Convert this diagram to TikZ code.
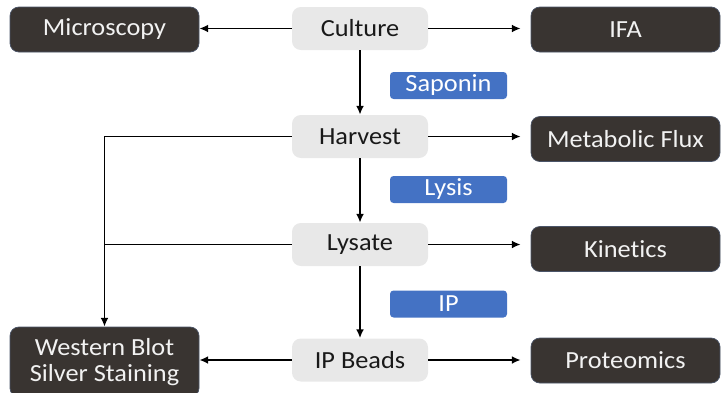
\documentclass[tikz,border=0pt]{standalone}
\usepackage{fontspec}
\setmainfont{Carlito}[FakeStretch=1.07, Ligatures=NoCommon]
\usepackage{xcolor}
\usepackage{tikz}
\usetikzlibrary{calc, arrows.meta, positioning}

\definecolor{darkbox}{HTML}{393431}
\definecolor{darkedge}{HTML}{4A5468}
\definecolor{greybox}{HTML}{E8E8E8}
\definecolor{bluebox}{HTML}{4472C4}

\begin{document}
\begin{tikzpicture}[auto, >={Latex[length=5pt, width=4.5pt]}]
		\tikzstyle{stage} = [fill=greybox, rounded corners=5pt, minimum width=2.72cm, minimum height=0.86cm, font=\fontsize{14}{17}\selectfont, text=black!90]
		\tikzstyle{assay} = [fill=darkbox, draw=darkedge, line width=0.4pt, rounded corners=5pt, minimum width=3.78cm, minimum height=0.9cm, font=\fontsize{14}{17}\selectfont, text=white!95!black, align=center]
		\tikzstyle{treat} = [fill=bluebox, rounded corners=2pt, minimum width=2.34cm, minimum height=0.54cm, inner sep=1pt, font=\fontsize{14}{17}\selectfont, text=white]
		\tikzstyle{arrow} = [line width=1.1pt, ->]
		\tikzstyle{link} = [line width=1.1pt]

		\useasboundingbox (0, 0) rectangle (14.5, 7.84);

		\node[stage] 	at (7.2, 7.27)	(culture) 	{Culture};
		\node[stage] 	at (7.2, 5.11)	(harvest) 	{Harvest};
		\node[stage] 	at (7.2, 2.95)	(lysate) 	{Lysate};
		\node[stage] 	at (7.2, 0.64)	(beads) 	{IP Beads};

		\node[assay] 	at (2.09, 7.25)	(microscopy) 	{Microscopy};
		\node[assay] 	at (12.51, 7.25)	(ifa) 	{IFA};
		\node[assay] 	at (12.51, 5.06)	(flux) 	{Metabolic Flux};
		\node[assay] 	at (12.51, 2.86)	(kinetics) 	{Kinetics};
		\node[assay] 	at (12.51, 0.63)	(proteomics) 	{Proteomics};
		\node[assay, minimum height=1.4cm, inner sep=2pt] 	at (2.09, 0.6)	(western) 	{Western Blot\\[-2pt]Silver Staining};

		\node[treat] 	at (8.97, 6.13)	(saponin) 	{Saponin};
		\node[treat] 	at (8.97, 4.05)	(lysis) 	{Lysis};
		\node[treat] 	at (8.97, 1.76)	(ip) 	{IP};

		\coordinate (join) at (lysate.west -| western.north);

		\path[arrow]
		(culture.west) 	edge 	(culture.west -| microscopy.east)
		(culture.east) 	edge[shorten >=0.2cm] 	(culture.east -| ifa.west)
		(harvest.east) 	edge[shorten >=0.2cm] 	(harvest.east -| flux.west)
		(lysate.east) 	edge[shorten >=0.2cm] 	(lysate.east -| kinetics.west)
		(beads.east) 	edge[shorten >=0.2cm] 	(beads.east -| proteomics.west)
		(beads.west) 	edge 	(beads.west -| western.east)
		(culture) 	edge 	(harvest)
		(harvest) 	edge 	(lysate)
		(lysate) 	edge 	(beads);

		\draw[arrow] (harvest.west) -| (western.north);
		\draw[link] (lysate.west) -- (join);
	\end{tikzpicture}
\end{document}
